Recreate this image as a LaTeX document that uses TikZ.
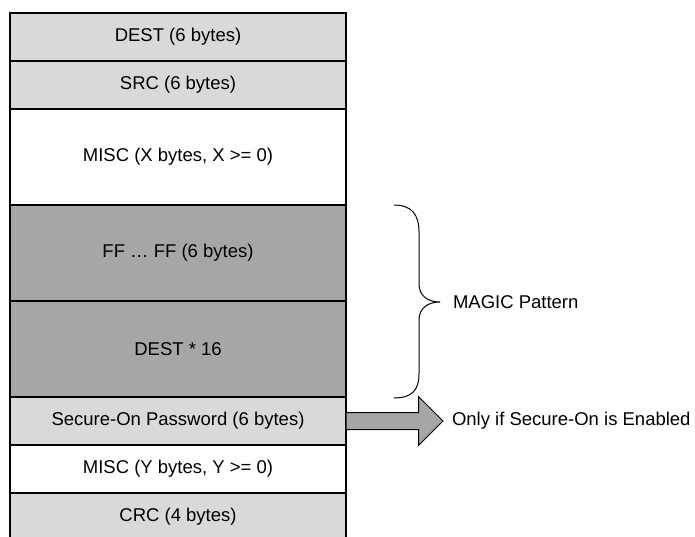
\documentclass[tikz,border=0pt]{standalone}
\usepackage{fontspec}
\setmainfont{Liberation Sans}
\usetikzlibrary{positioning,shapes.arrows}
\definecolor{lite}{HTML}{D9D9D9}
\definecolor{dark}{HTML}{A6A6A6}
\begin{document}
\begin{tikzpicture}
  [x=1pt,y=-1pt
  ,every node/.style={font=\fontsize{18.5}{22}\selectfont,outer sep=0pt}
  ,row/.style={draw,line width=2pt,minimum width=336pt,inner sep=0pt}
  ,half/.style={row,minimum height=48pt}
  ,full/.style={row,minimum height=96pt}
  ,lab/.style={inner sep=0pt,anchor=west}
  ,blk/.style={single arrow,draw,fill=dark,line width=1pt,inner sep=8pt
              ,single arrow head extend=16pt,minimum height=97pt}
  ]
    \useasboundingbox (0,0) rectangle (695,537);
    \node[half,fill=lite,anchor=north west] (dest) at (10,13) {DEST (6 bytes)};
    \node[half,fill=lite,below=0pt of dest] (src) {SRC (6 bytes)};
    \node[full,fill=white,below=0pt of src] (miscx) {MISC (X bytes, X >= 0)};
    \node[full,fill=dark,below=0pt of miscx] (ff) {FF … FF (6 bytes)};
    \node[full,fill=dark,below=0pt of ff] (dest16) {DEST * 16};
    \node[half,fill=lite,below=0pt of dest16] (secpw) {Secure-On Password (6 bytes)};
    \node[half,fill=white,below=0pt of secpw] (miscy) {MISC (Y bytes, Y >= 0)};
    \node[half,fill=lite,below=0pt of miscy] (crc) {CRC (4 bytes)};
    \draw[line width=1pt] (394,205) .. controls (412,205) and (419,215) .. (419,232)
      -- (419,284) .. controls (419,296) and (428,302) .. (440,302) coordinate (tip)
      .. controls (428,302) and (419,308) .. (419,320)
      -- (419,374) .. controls (419,390) and (412,398) .. (394,398);
    \node[lab,right=13pt of tip] (magic) {MAGIC Pattern};
    \node[blk,anchor=tail] (pwarrow) at (secpw.east) {};
    \node[lab,right=9pt of pwarrow.tip] (only) {Only if Secure-On is Enabled};
\end{tikzpicture}
\end{document}
